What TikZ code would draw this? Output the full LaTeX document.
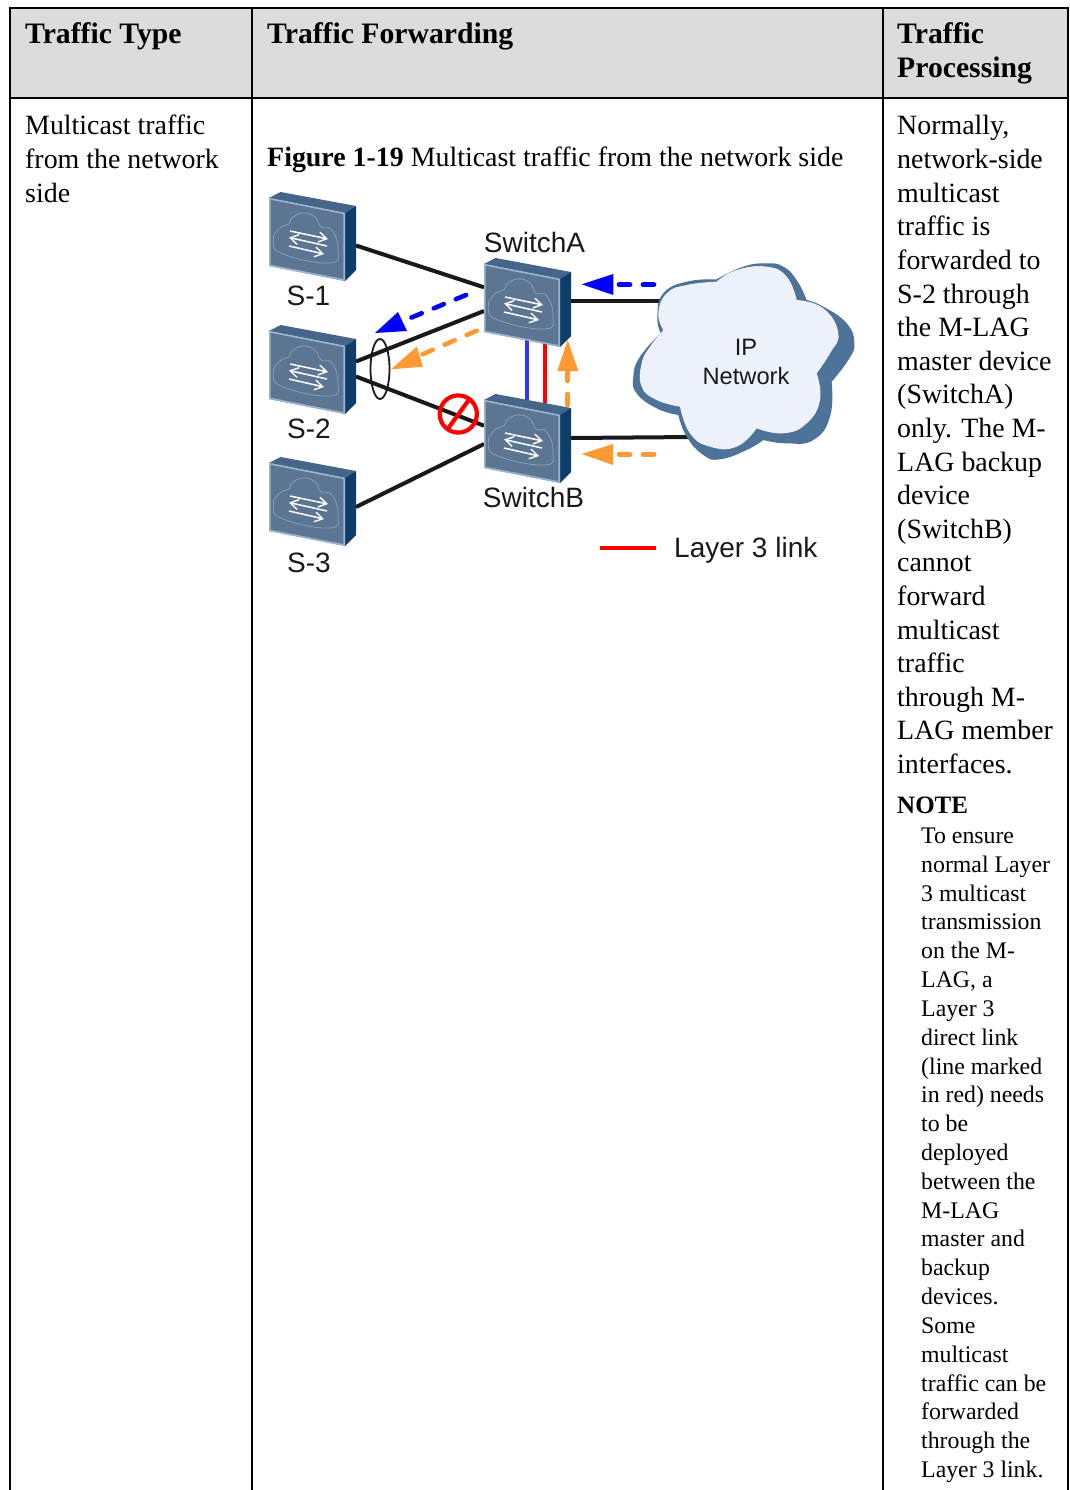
\documentclass[tikz,border=0pt]{standalone}
\usepackage{fontspec}
\setmainfont{Liberation Serif}
\newfontfamily\labelfont{Liberation Sans}
\usetikzlibrary{arrows.meta}
\tikzset{
  rule/.style={black,line width=2pt},
  headtext/.style={anchor=base west,inner sep=0pt,font=\fontsize{29.7}{34}\selectfont\bfseries},
  bodytext/.style={anchor=base west,inner sep=0pt,font=\fontsize{27.9}{34}\selectfont},
  notetext/.style={anchor=base west,inner sep=0pt,font=\fontsize{23.8}{29}\selectfont},
  devlabel/.style={inner sep=0pt,font=\labelfont\fontsize{28}{34}\selectfont,text=black!90},
  cloudlabel/.style={inner sep=0pt,font=\labelfont\fontsize{23.7}{29}\selectfont,text=black!90},
  devbox/.style={anchor=north west,inner sep=0pt,minimum width=87pt,minimum height=89pt},
  link/.style={line width=4pt,draw=black!90},
  bluedash/.style={line width=4.6pt,draw=arrowblue,line cap=round,dash pattern=on 11pt off 13pt},
  orangedash/.style={line width=4.6pt,draw=arroworange,line cap=round,dash pattern=on 11pt off 13pt},
  devarrow/.style={white,line width=1.5pt,-{Straight Barb[length=8pt,width=10pt,line width=1.4pt]}},
  device/.pic={
    \fill[devtop] (0,6)--(11.5,0)--(87,14)--(76,21)--cycle;
    \fill[devside] (76,21)--(87,14)--(87,78)--(76,89)--cycle;
    \fill[devfront] (0,6)--(76,21)--(76,89)--(0,74)--cycle;
    \draw[devedge,line width=1.6pt,line join=round] (.8,6.8)--(75.2,21.4)--(75.2,88)--(.8,73.4)--cycle;
    \draw[devcloud,line width=.7pt] plot[smooth cycle,tension=.8] coordinates{(4.3,48)(11,36)(20,32)(23,26)(34,21)(46,25)(52,35)(63,38)(69,58)(61,71)(14,62)};
    \draw[devarrow] (21,39)--(59,47);
    \draw[devarrow] (58,54)--(20,45.5);
    \draw[devarrow] (20,54)--(55,62);
  }
}
\definecolor{hdr}{HTML}{DCDCDC}
\definecolor{devtop}{HTML}{456688}
\definecolor{devside}{HTML}{0F3D69}
\definecolor{devfront}{HTML}{5C7593}
\definecolor{devedge}{HTML}{98B4CF}
\definecolor{devcloud}{HTML}{8CA3BC}
\definecolor{clouddark}{HTML}{4E7399}
\definecolor{cloudlight}{HTML}{EDF2FA}
\definecolor{arrowblue}{HTML}{0000FF}
\definecolor{linkblue}{HTML}{3333FF}
\definecolor{arroworange}{HTML}{FF9933}
\begin{document}
\begin{tikzpicture}[x=1pt,y=-1pt]
\useasboundingbox (0,0) rectangle (1069,1490);
\fill[white] (0,0) rectangle (1069,1490);
% table
\fill[hdr] (10,8) rectangle (1068,98);
\draw[rule] (10,1490)--(10,8)--(1068,8)--(1068,1490);
\draw[rule] (10,98)--(1068,98);
\draw[rule] (252,8)--(252,1490);
\draw[rule] (883,8)--(883,1490);
\node[headtext] (h1) at (25,44) {Traffic Type};
\node[headtext] (h2) at (267,44) {Traffic Forwarding};
\node[headtext] (h3) at (897,44) {Traffic};
\node[headtext] (h4) at (897,78) {Processing};
\foreach \t [count=\i] in {Multicast traffic,from the network,side}
  \node[bodytext] (ty\i) at (25,{135+(\i-1)*33.6}) {\t};
\node[bodytext] (cap) at (267,167) {\textbf{Figure 1-19} Multicast traffic from the network side};
\foreach \t [count=\i] in {{Normally,},network-side,multicast,traffic is,forwarded to,S-2 through,the M-LAG,master device,{(SwitchA)},only. The M-,LAG backup,device,{(SwitchB)},cannot,forward,multicast,traffic,through M-,LAG member,interfaces.}
  \node[bodytext] (pr\i) at (897,{135+(\i-1)*33.6}) {\t};
\node[anchor=base west,inner sep=0pt,font=\fontsize{25}{30}\selectfont\bfseries] (note) at (897,813) {NOTE};
\foreach \t [count=\i] in {To ensure,normal Layer,3 multicast,transmission,on the M-,{LAG, a},Layer 3,direct link,{(line marked},{in red) needs},to be,deployed,between the,M-LAG,master and,backup,devices.,Some,multicast,traffic can be,forwarded,through the,Layer 3 link.}
  \node[notetext] (nt\i) at (921,{843.5+(\i-1)*28.82}) {\t};
% devices' boxes and connector ends
\node[devbox] (S1) at (269,192) {};
\node[devbox] (S2) at (269,325) {};
\node[devbox] (S3) at (269,457) {};
\node[devbox] (SA) at (484,258) {};
\node[devbox] (SB) at (484,394) {};
\coordinate (s1r) at (356,245.5);
\coordinate (s2ru) at (356,361.5);
\coordinate (s2rd) at (356,376.5);
\coordinate (s3r) at (356,507);
\coordinate (al1) at (484,287.3);
\coordinate (al2) at (484,311);
\coordinate (bl1) at (484,425.7);
\coordinate (bl2) at (484,444);
\coordinate (ar) at (571,301);
\coordinate (br) at (571,438);
\coordinate (cl1) at (670,301);
\coordinate (cl2) at (695,437);
\coordinate (ab1) at (527,340);
\coordinate (ba1) at (527,405);
\coordinate (ab2) at (545,340);
\coordinate (ba2) at (545,408);
% connectors
\draw[link] (s1r)--(al1);
\draw[link] (s2ru)--(al2);
\draw[link] (s2rd)--(bl1);
\draw[link] (s3r)--(bl2);
\draw[link] (ar)--(cl1);
\draw[link] (br)--(cl2);
\draw[line width=3.8pt,draw=linkblue] (ab1)--(ba1);
\draw[line width=3.8pt,draw=red] (ab2)--(ba2);
% devices
\foreach \n in {S1,S2,S3,SA,SB} \pic at (\n.north west) {device};
% cloud
\begin{scope}[shift={(570,250)},x=.33333pt,y=-.33333pt]
\fill[clouddark] (272,250)
  -- plot[smooth,tension=.8] coordinates{(272,250)(262,200)(280,130)(350,95)(440,88)}
  -- plot[smooth,tension=.8] coordinates{(440,88)(520,50)(590,40)(640,50)(680,90)(710,150)}
  -- plot[smooth,tension=.8] coordinates{(710,150)(760,170)(830,220)(853,280)(835,330)(785,395)}
  -- plot[smooth,tension=.8] coordinates{(785,395)(780,500)(730,570)(650,580)(580,570)}
  -- plot[smooth,tension=.8] coordinates{(580,570)(530,600)(450,628)(400,615)(350,560)(325,495)}
  -- plot[smooth,tension=.8] coordinates{(325,495)(260,475)(200,430)(190,380)(210,320)(272,250)} -- cycle;
\fill[cloudlight] (280,240)
  -- plot[smooth,tension=.8] coordinates{(280,240)(265,190)(290,130)(350,105)(440,95)}
  -- plot[smooth,tension=.8] coordinates{(440,95)(500,60)(590,50)(650,80)(680,150)}
  -- plot[smooth,tension=.8] coordinates{(680,150)(760,175)(805,250)(780,310)(740,370)}
  -- plot[smooth,tension=.8] coordinates{(740,370)(750,450)(710,520)(640,550)(560,535)}
  -- plot[smooth,tension=.8] coordinates{(560,535)(500,590)(420,590)(360,550)(330,470)}
  -- plot[smooth,tension=.8] coordinates{(330,470)(260,450)(215,410)(215,340)(240,290)(280,240)} -- cycle;
\end{scope}
\node[cloudlabel] (ip) at (746,347.5) {IP};
\node[cloudlabel] (net) at (746,376.5) {Network};
% bundle ellipse
\draw[black!90,line width=1.8pt] (380,369) ellipse [x radius=9.5,y radius=30];
% forbidden sign
\draw[red,line width=4.2pt] (458.3,414) circle [radius=18.6];
\draw[red,line width=4.2pt] (470,398.3)--(447,430);
% dashed arrows
\coordinate (b1s) at (466,295);
\coordinate (b1e) at (403,321);
\draw[bluedash] (b1s)--(b1e);
\coordinate (b1t) at (375,333);
\coordinate (b1u) at (398,312);
\coordinate (b1v) at (407,331);
\fill[arrowblue] (b1t)--(b1u)--(b1v)--cycle;
\coordinate (o1s) at (476.7,330.7);
\coordinate (o1e) at (421,355);
\draw[orangedash] (o1s)--(o1e);
\coordinate (o1t) at (391,369.3);
\coordinate (o1u) at (416.7,346.7);
\coordinate (o1v) at (423,366.7);
\fill[arroworange] (o1t)--(o1u)--(o1v)--cycle;
\coordinate (o2s) at (567.7,405);
\coordinate (o2e) at (567.7,371);
\draw[orangedash] (o2s)--(o2e);
\coordinate (o2t) at (567.7,340);
\coordinate (o2u) at (557.3,371);
\coordinate (o2v) at (578.3,371);
\fill[arroworange] (o2t)--(o2u)--(o2v)--cycle;
\coordinate (b2s) at (654,284.7);
\coordinate (b2e) at (617,284.7);
\draw[bluedash] (b2s)--(b2e);
\coordinate (b2t) at (581.7,284.3);
\coordinate (b2u) at (613.3,274);
\coordinate (b2v) at (613.3,295);
\fill[arrowblue] (b2t)--(b2u)--(b2v)--cycle;
\coordinate (o3s) at (654,454.3);
\coordinate (o3e) at (617,454.3);
\draw[orangedash] (o3s)--(o3e);
\coordinate (o3t) at (581.7,454);
\coordinate (o3u) at (613,444);
\coordinate (o3v) at (613,465);
\fill[arroworange] (o3t)--(o3u)--(o3v)--cycle;
% labels
\node[devlabel] (l1) at (308.5,296) {S-1};
\node[devlabel] (l2) at (309,429) {S-2};
\node[devlabel] (l3) at (309,563) {S-3};
\node[devlabel] (la) at (534.5,242) {SwitchA};
\node[devlabel] (lb) at (533.5,497) {SwitchB};
% legend
\coordinate (lg1) at (600,548);
\coordinate (lg2) at (656,548);
\draw[red,line width=3.6pt] (lg1)--(lg2);
\node[devlabel,anchor=west] (lgt) at (674,550) {Layer 3 link};
\end{tikzpicture}
\end{document}
